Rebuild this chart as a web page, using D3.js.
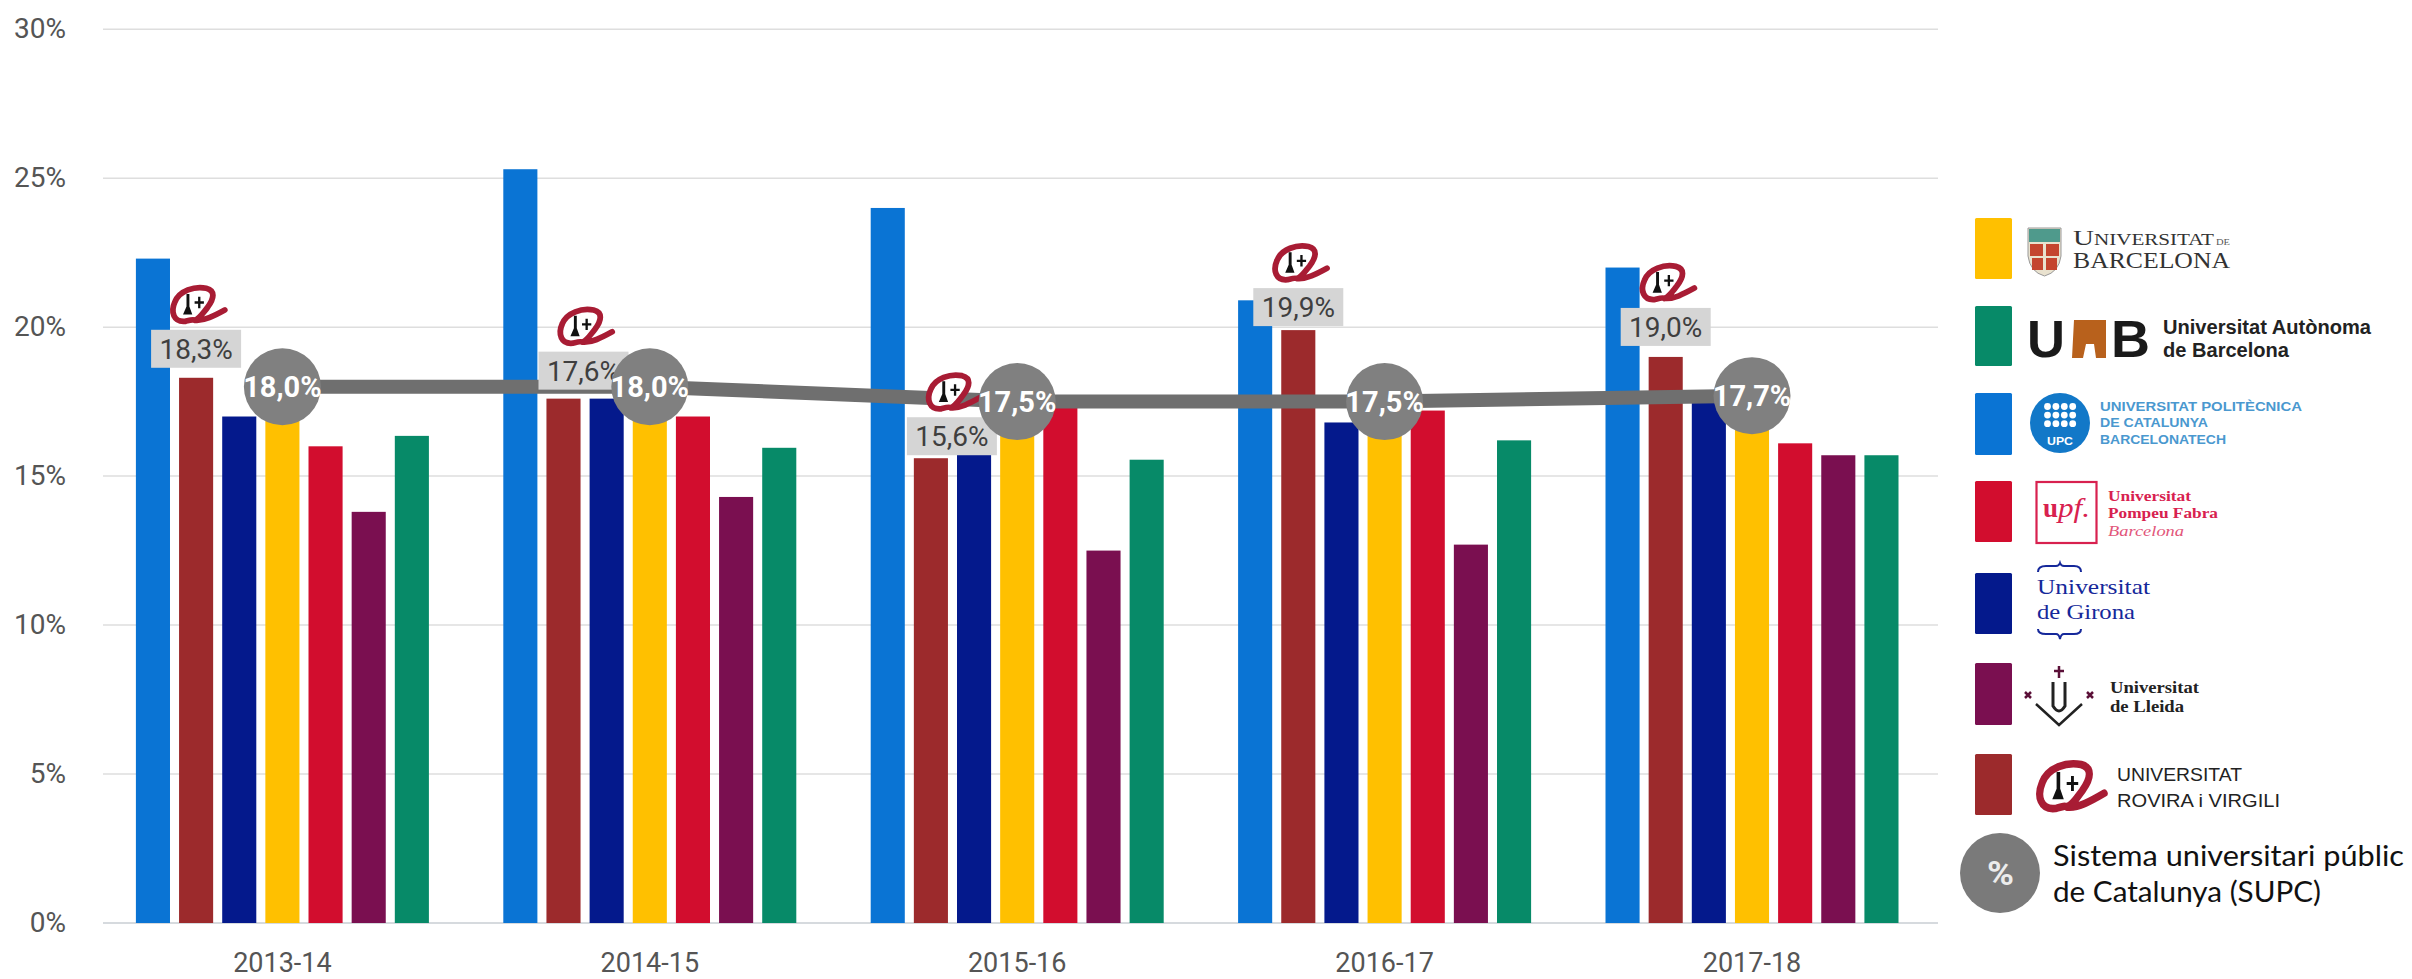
<!DOCTYPE html>
<html>
<head>
<meta charset="utf-8">
<script src="https://cdn.jsdelivr.net/npm/d3@7"></script>
<style>
html,body{margin:0;padding:0;background:#fff;overflow:hidden}
svg{display:block}
</style>
</head>
<body>
<svg id="c" width="2412" height="979"></svg>
<script>
// ---- data ----
const years = ["2013-14","2014-15","2015-16","2016-17","2017-18"];
const universities = ["UPC","URV","UdG","UB","UPF","UdL","UAB"];
const valUPC = [22.3,25.3,24.0,20.9,22.0];
const valURV = [18.3,17.6,15.6,19.9,19.0];
const valUdG = [17.0,17.6,16.9,16.8,17.5];
const valUB  = [17.0,17.0,17.0,17.0,17.2];
const valUPF = [16.0,17.0,17.3,17.2,16.1];
const valUdL = [13.8,14.3,12.5,12.7,15.7];
const valUAB = [16.35,15.95,15.55,16.2,15.7];
const valSUPC = [18.0,18.0,17.5,17.5,17.7];
const urvLabels = ["18,3%","17,6%","15,6%","19,9%","19,0%"];
const supcLabels = ["18,0%","18,0%","17,5%","17,5%","17,7%"];
const yTicks = [0,5,10,15,20,25,30];
const seriesValues = {UPC:valUPC,URV:valURV,UdG:valUdG,UB:valUB,UPF:valUPF,UdL:valUdL,UAB:valUAB};

// ---- styles ----
const colors = {UPC:"#0a74d4",URV:"#9c2a2c",UdG:"#04198c",UB:"#ffc000",UPF:"#d20d2e",UdL:"#7a0f50",UAB:"#078a68"};
const axisFont = "Roboto, 'Liberation Sans', sans-serif";
const serif = "'Liberation Serif', serif";
const sans = "'Liberation Sans', sans-serif";
// nudges of the URV callouts relative to the URV bar
const boxDx = [0,20,21,0,0], boxGap = [10,9,3,4,11];

const svg = d3.select("#c");
const x0 = d3.scaleBand().domain(years).range([98.7,1935.7]).paddingInner(0.2025).paddingOuter(0.10125);
const x1 = d3.scaleBand().domain(universities).range([0,x0.bandwidth()]).paddingInner(0.21).paddingOuter(0);
const y = d3.scaleLinear().domain([0,30]).range([923,29.2]);

// grid
svg.append("g").selectAll("line").data(yTicks).join("line")
  .attr("x1",103).attr("x2",1938)
  .attr("y1",d=>y(d)).attr("y2",d=>y(d))
  .attr("stroke",d=>d===0?"#c9ced3":"#dedede").attr("stroke-width",1.5);

// axes
const yAxis = svg.append("g").attr("transform","translate(66,0)")
  .call(d3.axisLeft(y).tickValues(yTicks).tickFormat(d=>d+"%").tickSize(0).tickPadding(0));
yAxis.select(".domain").remove();
yAxis.selectAll("text").attr("font-family",axisFont).attr("font-size",28).attr("fill","#555").attr("dy","0.3em");
const xAxis = svg.append("g").attr("transform","translate(0,923)")
  .call(d3.axisBottom(x0).tickSize(0).tickPadding(0));
xAxis.select(".domain").remove();
xAxis.selectAll("text").attr("font-family",axisFont).attr("font-size",27).attr("fill","#555").attr("dy",0).attr("y",49);

// bars
const groups = svg.append("g").selectAll("g").data(years).join("g")
  .attr("transform",d=>`translate(${x0(d)},0)`);
groups.selectAll("rect").data((d,i)=>universities.map(u=>({u,v:seriesValues[u][i]}))).join("rect")
  .attr("x",d=>x1(d.u)).attr("width",x1.bandwidth())
  .attr("y",d=>y(d.v)).attr("height",d=>y(0)-y(d.v))
  .attr("fill",d=>colors[d.u]);

// SUPC line
const cx = d=>x0(d)+x0.bandwidth()/2;
svg.append("path").datum(valSUPC)
  .attr("fill","none").attr("stroke","#6f6f6f").attr("stroke-width",14)
  .attr("d",d3.line().x((d,i)=>cx(years[i])).y(d=>y(d)));

// URV logo
function urvLogo(parent,px,py,w,h){
  const g = parent.append("g").attr("transform",`translate(${px},${py}) scale(${w/100},${h/70})`);
  g.append("path").attr("fill","#fff")
    .attr("d","M28 66 C8 66 2 48 10 30 C18 10 44 2 64 6 C80 10 78 24 66 40 C58 50 52 60 44 62 Z");
  g.append("path").attr("fill","none").attr("stroke","#a81c34").attr("stroke-width",10).attr("stroke-linecap","round").attr("stroke-linejoin","round")
    .attr("d","M28 64 C8 66 2 48 10 30 C18 10 44 2 64 6 C80 10 78 24 66 40 C58 50 52 60 44 62 C60 64 78 54 96 44 M28 64 C36 62 42 60 44 62");
  g.append("path").attr("fill","#111")
    .attr("d","M30 16 L35 16 L35 38 L40 52 L24 52 L30 38 Z M44 29 L50 29 L50 21 L54 21 L54 29 L60 29 L60 33 L54 33 L54 41 L50 41 L50 33 L44 33 Z");
}

// URV callouts
const urvX = (i)=>x0(years[i])+x1("URV")+x1.bandwidth()/2;
years.forEach((yr,i)=>{
  const bx = urvX(i)+boxDx[i], bBottom = y(valURV[i])-boxGap[i];
  urvLogo(svg,bx-27,bBottom-83,58,40);
  svg.append("rect").attr("x",bx-45).attr("y",bBottom-38).attr("width",90).attr("height",38).attr("fill","#d5d5d5");
  svg.append("text").attr("x",bx).attr("y",bBottom-9).attr("text-anchor","middle")
    .attr("font-family",axisFont).attr("font-size",28).attr("fill","#3f3f3f").text(urvLabels[i]);
});

// SUPC circles
const dots = svg.append("g").selectAll("g").data(valSUPC).join("g")
  .attr("transform",(d,i)=>`translate(${cx(years[i])},${y(d)})`);
dots.append("circle").attr("r",38.5).attr("fill","#808080");
dots.append("text").attr("text-anchor","middle").attr("y",10)
  .attr("font-family",axisFont).attr("font-weight",700).attr("font-size",29).attr("fill","#fff")
  .text((d,i)=>supcLabels[i]);

// ---- legend ----
const leg = svg.append("g");
function txt(x,yy,str,o){
  const t = leg.append("text").attr("x",x).attr("y",yy).text(str)
    .attr("font-family",o.font||sans).attr("font-size",o.size).attr("fill",o.fill||"#111")
    .attr("font-weight",o.weight||400).attr("font-style",o.style||"normal");
  if(o.len) t.attr("textLength",o.len).attr("lengthAdjust","spacingAndGlyphs");
  return t;
}
const swatches = [["UB",218,279],["UAB",306,366],["UPC",393,455],["UPF",481,542],["UdG",573,634],["UdL",663,725],["URV",754,815]];
leg.selectAll("rect.sw").data(swatches).join("rect").attr("class","sw")
  .attr("x",1975).attr("width",37).attr("y",d=>d[1]).attr("height",d=>d[2]-d[1]).attr("rx",1.5)
  .attr("fill",d=>colors[d[0]]);

// UB
leg.append("path").attr("d","M2028 228 L2061 228 L2061 256 Q2059 272 2044.5 276 Q2030 272 2028 256 Z").attr("fill","#e9e2cf").attr("stroke","#999").attr("stroke-width",1);
leg.append("rect").attr("x",2029).attr("y",229).attr("width",31).attr("height",13).attr("fill","#4f9a8c");
leg.append("path").attr("d","M2030 244 h13 v12 h-13 Z M2046 244 h13 v12 h-13 Z M2032 258 h11 v12 h-11 Z M2046 258 h11 v12 h-11 Z").attr("fill","#c4452f");
const ubTop = txt(2073,245,"",{font:serif,size:16,fill:"#333",len:141});
ubTop.append("tspan").attr("font-size",22).text("U");
ubTop.append("tspan").text("NIVERSITAT");
txt(2216,245,"DE",{font:serif,size:8,fill:"#555",len:14});
txt(2073,268,"BARCELONA",{font:serif,size:24,fill:"#333",len:157});

// UAB
txt(2027,357,"U",{size:52,weight:700,fill:"#1a1a1a",len:38});
txt(2111,357,"B",{size:52,weight:700,fill:"#1a1a1a",len:39});
leg.append("path").attr("d","M2072 358 L2074 320 L2106 320 L2106 358 L2096 358 L2094 344 L2086 344 L2083 358 Z").attr("fill","#b8611c");
txt(2163,334,"Universitat Autònoma",{size:20,weight:700,fill:"#222",len:208});
txt(2163,357,"de Barcelona",{size:20,weight:700,fill:"#222",len:126});

// UPC
leg.append("circle").attr("cx",2060).attr("cy",423).attr("r",30).attr("fill","#1278c8");
const upcRows=[0,1,2], upcCols=[0,1,2,3];
upcRows.forEach(r=>upcCols.forEach(c=>leg.append("circle").attr("cx",2047.5+c*8.4).attr("cy",406.5+r*8.6).attr("r",3.4).attr("fill","#fff")));
txt(2047,445,"UPC",{size:10,weight:700,fill:"#fff",len:26});
txt(2100,411,"UNIVERSITAT POLITÈCNICA",{size:13,weight:700,fill:"#4a98cf",len:202});
txt(2100,427,"DE CATALUNYA",{size:13,weight:700,fill:"#4a98cf",len:108});
txt(2100,444,"BARCELONATECH",{size:13,weight:700,fill:"#4a98cf",len:126});

// UPF
leg.append("rect").attr("x",2036.5).attr("y",482).attr("width",60).attr("height",61).attr("fill","none").attr("stroke","#d8214f").attr("stroke-width",2.2);
txt(2043,517,"u",{font:serif,size:27,weight:700,fill:"#d8214f"});
txt(2058,517,"pf.",{font:serif,size:27,style:"italic",fill:"#d8214f",len:32});
txt(2108,501,"Universitat",{font:serif,size:15,weight:700,fill:"#d8214f",len:83});
txt(2108,518,"Pompeu Fabra",{font:serif,size:15,weight:700,fill:"#d8214f",len:110});
txt(2108,536,"Barcelona",{font:serif,size:15,style:"italic",fill:"#e2567a",len:76});

// UdG
leg.append("path").attr("fill","none").attr("stroke","#15289a").attr("stroke-width",2)
  .attr("d","M2038 572 Q2038 566 2046 566 L2056 566 Q2059 566 2060 563 Q2061 566 2064 566 L2074 566 Q2081 566 2081 572 M2038 629 Q2038 634 2046 634 L2056 634 Q2059 634 2060 639 Q2061 634 2064 634 L2074 634 Q2081 634 2081 629");
txt(2037,594,"Universitat",{font:serif,size:22,fill:"#15289a",len:113});
txt(2037,619,"de Girona",{font:serif,size:22,fill:"#15289a",len:98});

// UdL
leg.append("path").attr("fill","none").attr("stroke","#222").attr("stroke-width",2.5)
  .attr("d","M2036 704 L2059 725 L2082 704");
leg.append("path").attr("fill","none").attr("stroke","#222").attr("stroke-width",3)
  .attr("d","M2053 682 L2053 706 Q2059 716 2065 706 L2065 682");
leg.append("path").attr("fill","none").attr("stroke","#5b1038").attr("stroke-width",2.5)
  .attr("d","M2059 666 V678 M2054 671 H2064 M2025 692 L2031 698 M2031 692 L2025 698 M2087 692 L2093 698 M2093 692 L2087 698");
txt(2110,693,"Universitat",{font:serif,size:17,weight:700,fill:"#222",len:89});
txt(2110,712,"de Lleida",{font:serif,size:17,weight:700,fill:"#222",len:74});

// URV
urvLogo(leg,2035,760,72,53);
txt(2117,781,"UNIVERSITAT",{size:19,fill:"#222",len:125});
txt(2117,807,"ROVIRA i VIRGILI",{size:19,fill:"#222",len:163});

// SUPC
leg.append("circle").attr("cx",2000).attr("cy",873).attr("r",40).attr("fill","#7a7a7a");
txt(1987,885,"%",{font:axisFont,size:34,weight:700,fill:"#ececec",len:27});
txt(2053,866,"Sistema universitari públic",{font:"Lato, sans-serif",size:29.5,fill:"#111",len:351});
txt(2053,902,"de Catalunya (SUPC)",{font:"Lato, sans-serif",size:29.5,fill:"#111",len:268});
</script>
</body>
</html>
